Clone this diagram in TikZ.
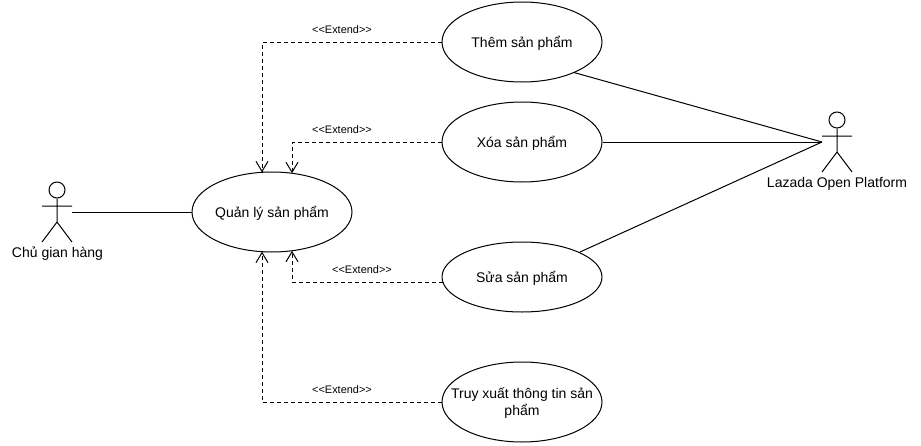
\documentclass[tikz,border=0pt]{standalone}
\usepackage{fontspec}
\setmainfont{Liberation Sans}
\usetikzlibrary{arrows.meta,shapes.geometric}
\tikzset{
  x=0.75pt,y=-0.75pt,
  usecase/.style={draw,ellipse,minimum width=120pt,minimum height=60pt,inner sep=0pt,line width=0.75pt,fill=white},
  uctext/.style={font=\fontsize{10.5}{12.5}\selectfont,inner sep=0pt,text height=8.2pt,text depth=0pt},
  uctwo/.style={font=\fontsize{10.5}{13.3}\selectfont,inner sep=0pt,align=center},
  actorlabel/.style={font=\fontsize{10.5}{12}\selectfont,inner sep=0pt,text height=8.2pt,text depth=0pt},
  stereo/.style={font=\fontsize{8.2}{9}\selectfont,inner sep=0pt,text height=5.2pt,text depth=0pt},
  ext/.style={line width=0.75pt,dash pattern=on 3pt off 2.25pt,-{Straight Barb[length=7.5pt,width=9pt,line width=0.75pt]}},
  assoc/.style={line width=0.75pt},
  limb/.style={line width=0.75pt},
}
\newcommand{\extlabel}{{<}{<}Extend{>}{>}}
\begin{document}
\begin{tikzpicture}
\useasboundingbox[fill=white] (0,0) rectangle (921,446);
\node[usecase,label={[uctext]center:Quản lý sản phẩm}] (ql) at (272,212) {};
\node[usecase,label={[uctext]center:Thêm sản phẩm}] (them) at (522,42) {};
\node[usecase,label={[uctext]center:Xóa sản phẩm}] (xoa) at (522,142) {};
\node[usecase,minimum height=52.5pt,label={[uctext]center:Sửa sản phẩm}] (sua) at (522,277) {};
\node[usecase] (truy) at (522,402) {};
\node[uctwo] (truyt) at (522,403) {Truy xuất thông tin sản\\phẩm};
% left actor
\node[draw,circle,minimum size=12pt,inner sep=0pt,line width=0.75pt] (lhead) at (57,190) {};
\coordinate (lhip) at (57,222);
\coordinate (larm) at (72,206);
\coordinate (lhand) at (42,206);
\coordinate (lfl) at (42,242);
\coordinate (lfr) at (72,242);
\coordinate (lport) at (72,212);
\draw[limb] (lhead.south) -- (lhip) (lhand) -- (larm) (lfl) -- (lhip) -- (lfr);
\node[actorlabel] (llabel) at (57.5,252) {Chủ gian hàng};
% right actor
\node[draw,circle,minimum size=12pt,inner sep=0pt,line width=0.75pt] (rhead) at (837,120) {};
\coordinate (rhip) at (837,152);
\coordinate (rarm) at (852,136);
\coordinate (rhand) at (822,136);
\coordinate (rfl) at (822,172);
\coordinate (rfr) at (852,172);
\coordinate (rport) at (822,142);
\draw[limb] (rhead.south) -- (rhip) (rhand) -- (rarm) (rfl) -- (rhip) -- (rfr);
\node[actorlabel] (rlabel) at (837,182) {Lazada Open Platform};
% associations
\coordinate (thema) at (574,72.5);
\coordinate (suaa) at (580,252);
\coordinate (suaw) at (442.8,282);
\draw[assoc] (lport) -- (ql.west);
\draw[assoc] (thema) -- (rport);
\draw[assoc] (xoa.east) -- (rport);
\draw[assoc] (suaa) -- (rport);
% extends
\coordinate (qt1) at (262,172.3);
\coordinate (qt2) at (292,173.2);
\coordinate (qb1) at (262,251.7);
\coordinate (qb2) at (292,250.8);
\draw[ext] (them.west) -| (qt1);
\draw[ext] (xoa.west) -| (qt2);
\draw[ext] (suaw) -| (qb2);
\draw[ext] (truy.west) -| (qb1);
\node[stereo] (e1) at (342,30) {\extlabel};
\node[stereo] (e2) at (342,130) {\extlabel};
\node[stereo] (e3) at (362,270) {\extlabel};
\node[stereo] (e4) at (342,390) {\extlabel};
\end{tikzpicture}
\end{document}
